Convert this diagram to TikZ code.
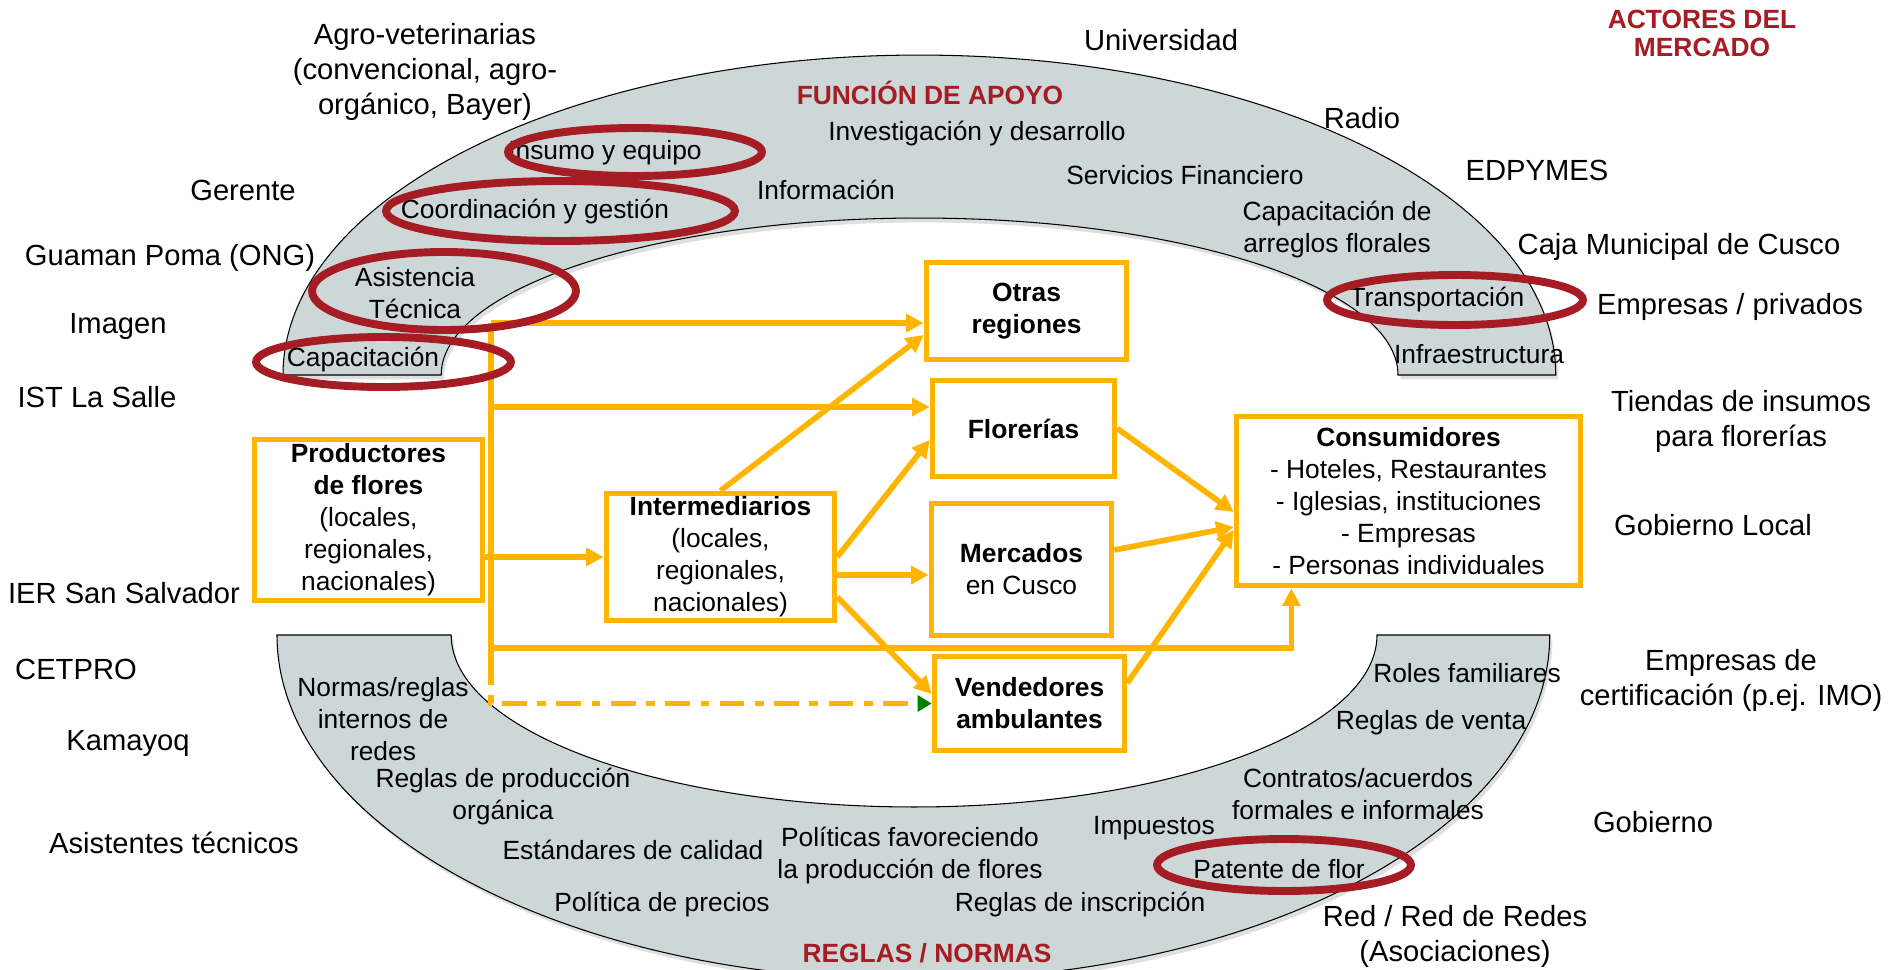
\documentclass[tikz,border=0pt]{standalone}
\usepackage{fontspec}
\setmainfont{Liberation Sans}
\usepackage{xcolor}
\usepackage{tikz}
\usetikzlibrary{arrows.meta,positioning,calc,shadows}
\definecolor{flowyellow}{RGB}{255,180,0}
\definecolor{ringred}{RGB}{165,28,36}
\definecolor{bandgray}{RGB}{205,215,215}
\definecolor{tipgreen}{RGB}{0,128,0}

\begin{document}
\begin{tikzpicture}[x=0.02cm, y=-0.02cm,
    actor/.style={align=center, inner sep=0pt, font=\fontsize{16.6}{19.9}\selectfont},
    band/.style={align=center, inner sep=0pt, font=\fontsize{15}{18.2}\selectfont},
    title/.style={align=center, inner sep=0pt, text=ringred, font=\fontsize{15}{16}\selectfont\bfseries},
    box/.style={draw=flowyellow, line width=3.2pt, fill=white, align=center, inner sep=1pt, font=\fontsize{15}{18.2}\selectfont},
    flow/.style={flowyellow, line width=3.2pt},
    flowarrow/.style={flow, -{Triangle[length=10pt,width=10pt]}},
    dashflow/.style={flow, dash pattern=on 14pt off 6pt on 5pt off 6pt, -{Triangle[length=8pt,width=9pt,color=tipgreen]}},
    ring/.style={ringred, line width=4.5pt},
    shell/.style={fill=bandgray, draw=black, line width=0.6pt, drop shadow={opacity=0.25, shadow xshift=1.5pt, shadow yshift=-2.5pt}}]

    \useasboundingbox (0,0) rectangle (1893,970);

    % Support band (top)
    \draw[shell] (283,375) arc[start angle=180, end angle=0, x radius=12.73cm, y radius=6.4cm]
        -- (1398,375) arc[start angle=0, end angle=180, x radius=9.57cm, y radius=3.14cm] -- cycle;

    % Rules band (bottom)
    \draw[shell] (277,635) arc[start angle=180, end angle=360, x radius=12.73cm, y radius=6.9cm]
        -- (1377,635) arc[start angle=360, end angle=180, x radius=9.26cm, y radius=3.44cm] -- cycle;

    % Actors around the system
    \node[actor] (agro) at (425,72) {Agro-veterinarias\\(convencional, agro-\\orgánico, Bayer)};
    \node[actor] (univ) at (1161,40) {Universidad};
    \node[actor] (radio) at (1362,118) {Radio};
    \node[actor] (edpymes) at (1537,170) {EDPYMES};
    \node[actor] (gerente) at (243,190) {Gerente};
    \node[actor] (caja) at (1679,247) {Caja Municipal de Cusco};
    \node[actor] (guaman) at (170,258) {Guaman Poma (ONG)};
    \node[actor] (privados) at (1730,307) {Empresas / privados};
    \node[actor] (imagen) at (118,326) {Imagen};
    \node[actor] (lasalle) at (97,397) {IST La Salle};
    \node[actor] (tiendas) at (1741,421) {Tiendas de insumos\\para florerías};
    \node[actor] (goblocal) at (1713,525) {Gobierno Local};
    \node[actor] (ier) at (124,593) {IER San Salvador};
    \node[actor] (cetpro) at (76,669) {CETPRO};
    \node[actor] (certif) at (1731,680) {Empresas de\\certificación (p.ej. IMO)};
    \node[actor] (kamayoq) at (128,743) {Kamayoq};
    \node[actor] (gobierno) at (1653,822) {Gobierno};
    \node[actor] (asist) at (174,843) {Asistentes técnicos};
    \node[actor] (red) at (1455,936) {Red / Red de Redes\\(Asociaciones)};
    \node[title] (actores) at (1702,33) {ACTORES DEL\\MERCADO};

    % Support functions
    \node[title] (apoyo) at (930,93) {FUNCIÓN DE APOYO};
    \node[band] (insumo) at (605,153) {Insumo y equipo};
    \node[band] (investig) at (977,134) {Investigación y desarrollo};
    \node[band] (info) at (826,190) {Información};
    \node[band] (servfin) at (1185,175) {Servicios Financiero};
    \node[band] (coord) at (535,212) {Coordinación y gestión};
    \node[band] (arreglos) at (1337,230) {Capacitación de\\arreglos florales};
    \node[band] (asistec) at (415,293) {Asistencia\\Técnica};
    \node[band] (transp) at (1437,300) {Transportación};
    \node[band] (capac) at (363,360) {Capacitación};
    \node[band] (infra) at (1479,354) {Infraestructura};

    % Rules and norms
    \node[band] (normas) at (383,719) {Normas/reglas\\internos de\\redes};
    \node[band] (roles) at (1467,673) {Roles familiares};
    \node[band] (venta) at (1431,723) {Reglas de venta};
    \node[band] (organica) at (503,797) {Reglas de producción\\orgánica};
    \node[band] (contratos) at (1358,794) {Contratos/acuerdos\\formales e informales};
    \node[band] (impuestos) at (1154,828) {Impuestos};
    \node[band] (calidad) at (633,850) {Estándares de calidad};
    \node[band] (politicas) at (910,856) {Políticas favoreciendo\\la producción de flores};
    \node[band] (patente) at (1279,869) {Patente de flor};
    \node[band] (precios) at (662,905) {Política de precios};
    \node[band] (inscrip) at (1080,905) {Reglas de inscripción};
    \node[title] (reglas) at (927,953) {REGLAS / NORMAS};

    % Market chain
    \node[box, minimum width=4.0cm, minimum height=1.94cm] (otras) at (1026.5,311) {\textbf{Otras}\\\textbf{regiones}};
    \node[box, minimum width=3.64cm, minimum height=1.92cm] (flor) at (1023.5,428.5) {\textbf{Florerías}};
    \node[box, minimum width=4.56cm, minimum height=3.22cm] (prod) at (368.5,520) {\textbf{Productores}\\\textbf{de flores}\\(locales,\\regionales,\\nacionales)};
    \node[box, minimum width=4.56cm, minimum height=2.54cm] (inter) at (720.5,557) {\textbf{Intermediarios}\\(locales,\\regionales,\\nacionales)};
    \node[box, minimum width=3.6cm, minimum height=2.64cm] (merc) at (1021.5,569.5) {\textbf{Mercados}\\en Cusco};
    \node[box, minimum width=3.8cm, minimum height=1.88cm] (vend) at (1029.5,703.5) {\textbf{Vendedores}\\\textbf{ambulantes}};
    \node[box, minimum width=6.88cm, minimum height=3.38cm] (cons) at (1408.5,501) {\textbf{Consumidores}\\- Hoteles, Restaurantes\\- Iglesias, instituciones\\- Empresas\\- Personas individuales};

    % Producer trunk
    \coordinate (trunkTop) at (491,323);
    \coordinate (trunkFlor) at (491,407);
    \coordinate (trunkLow) at (491,648);
    \coordinate (trunkEnd) at (491,660);
    \draw[flow] (trunkTop) -- (trunkEnd);
    \draw[flowarrow] (trunkTop) -- (trunkTop -| otras.west);
    \draw[flowarrow] (trunkFlor) -- (trunkFlor -| flor.west);
    \draw[flowarrow] (prod.east |- inter.west) -- (inter.west);
    \draw[flowarrow] (trunkLow) -| ($(cons.south west)!0.165!(cons.south east)$);
    \draw[dashflow] (trunkEnd) |- (vend.west);

    % From intermediaries
    \draw[flowarrow] (inter.north) -- ([yshift=-0.48cm]otras.west);
    \draw[flowarrow] (inter.east) -- ([yshift=-0.23cm]flor.west);
    \draw[flowarrow] ([yshift=-0.36cm]inter.east) -- ([yshift=-0.36cm]inter.east -| merc.west);
    \draw[flowarrow] ([yshift=-0.8cm]inter.east) -- ([yshift=0.19cm]vend.west);

    % Towards consumers
    \draw[flowarrow] (flor.east) -- ([yshift=-0.22cm]cons.west);
    \draw[flowarrow] ([yshift=0.39cm]merc.east) -- ([yshift=-0.52cm]cons.west);
    \draw[flowarrow] ([yshift=0.41cm]vend.east) -- ([yshift=-0.58cm]cons.west);

    % Highlighted functions
    \foreach \cx/\cy/\rx/\ry in {635/152/2.54/0.48, 560.5/211/3.49/0.60, 444/291/2.64/0.78,
        383.5/362/2.55/0.50, 1455/300/2.56/0.50, 1284/865/2.54/0.52} {
        \draw[ring] (\cx,\cy) ellipse [x radius=\rx cm, y radius=\ry cm];
    }
\end{tikzpicture}
\end{document}
